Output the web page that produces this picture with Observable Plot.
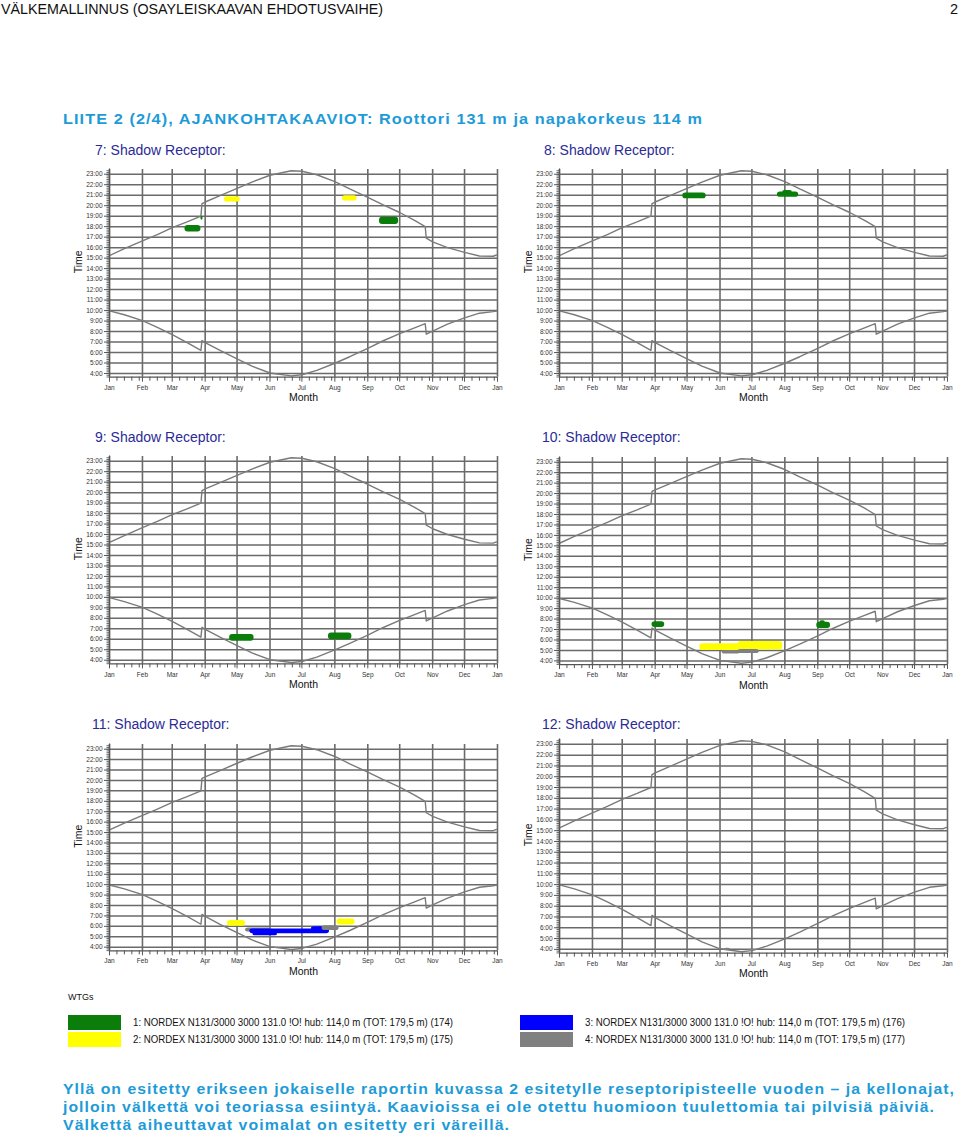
<!DOCTYPE html>
<html><head><meta charset="utf-8">
<script src="https://cdn.jsdelivr.net/npm/d3@7"></script>
<script src="https://cdn.jsdelivr.net/npm/@observablehq/plot@0.6"></script>
<style>
body{margin:0;background:#fff;}
#page{position:relative;width:960px;height:1139px;overflow:hidden;font-family:"Liberation Sans",Arial,sans-serif;}
.abs{position:absolute;white-space:nowrap;transform-origin:0 0;}
.hdr{font-family:"Liberation Sans",Arial,sans-serif;font-size:14.5px;line-height:16px;color:#111;}
.blue{font-family:"Liberation Sans",Arial,sans-serif;font-weight:bold;color:#1e9bd7;letter-spacing:1px;font-size:15px;line-height:18px;}
.ptitle{font-size:14px;line-height:18px;color:#2b2b96;}
.leg{font-size:10px;line-height:12px;color:#111;}
</style></head><body><div id="page"></div>
<script>
const YEAR = 2010;
const monthLabels = ["Jan","Feb","Mar","Apr","May","Jun","Jul","Aug","Sep","Oct","Nov","Dec"];
const hourTicks = [4,5,6,7,8,9,10,11,12,13,14,15,16,17,18,19,20,21,22,23];
const receptorNames = ["7: Shadow Receptor:","8: Shadow Receptor:","9: Shadow Receptor:","10: Shadow Receptor:","11: Shadow Receptor:","12: Shadow Receptor:"];

// sunrise / sunset curve (month-day, decimal hour)
const sunDates = ["01-01","01-15","02-01","02-15","03-01","03-15","03-28","03-29","04-01","04-15","05-01","05-15","06-01","06-21","07-01","07-15","08-01","08-15","09-01","09-15","10-01","10-15","10-25","10-26","11-01","11-15","12-01","12-15","12-28","12-31"];
const sunsetHours = [15.25,15.9,16.65,17.25,17.9,18.45,19.0,20.2,20.35,20.95,21.65,22.25,22.9,23.33,23.28,22.95,22.3,21.6,20.8,20.1,19.35,18.6,18.0,16.9,16.55,16.0,15.55,15.2,15.18,15.3];
const sunriseHours = [9.97,9.6,9.05,8.4,7.7,6.95,6.2,7.15,6.95,6.2,5.4,4.7,4.05,3.78,3.88,4.3,4.98,5.6,6.4,7.1,7.8,8.35,8.75,7.75,8.05,8.7,9.3,9.75,9.9,9.95];

// WTGs
const wtgIds = [1,2,3,4];
const wtgColors = ["#0a7d0a","#ffff00","#0000ff","#808080"];
const wtgLabels = [
  "1: NORDEX N131/3000 3000 131.0 !O! hub: 114,0 m (TOT: 179,5 m) (174)",
  "2: NORDEX N131/3000 3000 131.0 !O! hub: 114,0 m (TOT: 179,5 m) (175)",
  "3: NORDEX N131/3000 3000 131.0 !O! hub: 114,0 m (TOT: 179,5 m) (176)",
  "4: NORDEX N131/3000 3000 131.0 !O! hub: 114,0 m (TOT: 179,5 m) (177)"
];

// shadow periods per receptor: [wtg, from, to, startHour, endHour]
const patches7 = [[1,"03-13","03-28",17.5,18.1],[1,"03-28","03-30",18.6,19.0],[2,"04-19","05-04",20.35,20.85],[2,"08-08","08-22",20.45,20.95],[1,"09-12","09-30",18.2,18.9]];
const patches8 = [[1,"04-27","05-19",20.65,21.2],[1,"07-25","08-14",20.8,21.3],[1,"07-30","08-08",21.2,21.45]];
const patches9 = [[1,"04-24","05-17",5.8,6.45],[1,"07-26","08-17",5.95,6.6]];
const patches10 = [[1,"03-29","04-10",7.2,7.75],[1,"08-31","09-13",7.1,7.7],[1,"09-03","09-08",7.6,7.85],[2,"05-13","06-20",5.0,5.65],[2,"06-18","07-30",5.05,5.85],[4,"06-03","06-20",4.65,5.0],[4,"06-18","07-08",4.7,5.1]];
const patches11 = [[2,"04-22","05-09",6.0,6.55],[2,"08-03","08-20",6.12,6.7],[4,"05-09","06-03",5.45,5.85],[3,"05-13","07-27",5.3,5.75],[3,"05-16","06-08",5.1,5.4],[3,"07-10","07-22",5.6,5.95],[4,"07-20","08-05",5.6,6.05]];
const patches12 = [[4,"06-05","06-11",3.95,4.1],[4,"06-27","07-04",3.85,4.0]];
const allPatches = [patches7,patches8,patches9,patches10,patches11,patches12];

// layout (page coordinates)
const layout = [
 {x0:109, y23:173.7, y4:373, tx:95, ty:141},
 {x0:559, y23:173.7, y4:373, tx:544, ty:141},
 {x0:109, y23:461, y4:660, tx:95, ty:428},
 {x0:559, y23:461.3, y4:660, tx:542, ty:428},
 {x0:109, y23:749, y4:947, tx:92, ty:715},
 {x0:559, y23:744, y4:949, tx:542, ty:715}
];

const page = document.getElementById("page");
function addDiv(cls, text, left, top, extra) {
  const d = document.createElement("div");
  d.className = "abs " + cls;
  d.textContent = text;
  d.style.left = left + "px"; d.style.top = top + "px";
  if (extra) Object.assign(d.style, extra);
  page.appendChild(d);
  return d;
}
function fit(div, target) {
  const w = div.getBoundingClientRect().width;
  if (w > 0) div.style.transform = `scaleX(${target / w})`;
  return div;
}
const md = s => { const [m, d] = s.split("-").map(Number); return new Date(Date.UTC(YEAR, m - 1, d)); };

fit(addDiv("hdr", "VÄLKEMALLINNUS (OSAYLEISKAAVAN EHDOTUSVAIHE)", 1, 1), 382);
addDiv("hdr", "2", 950, 1);
fit(addDiv("blue", "LIITE 2 (2/4), AJANKOHTAKAAVIOT: Roottori 131 m ja napakorkeus 114 m", 63, 110), 640);

const sunsetRows = sunDates.map((d, i) => ({date: md(d), t: sunsetHours[i]}));
const sunriseRows = sunDates.map((d, i) => ({date: md(d), t: sunriseHours[i]}));

function panel(idx) {
  const L = layout[idx];
  const k = (L.y4 - L.y23) / 19;
  const yTop = 23.45, yBot = 3.65;
  const mt = 30, mb = 36, ml = 49, mr = 13, W = 450;
  const H = mt + (yTop - yBot) * k + mb;
  const top = L.y23 - (yTop - 23) * k - mt;
  const left = L.x0 - ml;
  const xa = new Date(Date.UTC(YEAR, 0, 1)), xb = new Date(Date.UTC(YEAR + 1, 0, 1));
  const months = d3.utcMonth.range(xa, d3.utcDay.offset(xb, 1));
  const weeks = d3.utcDay.every(7).range(xa, xb).filter(d => d.getUTCDate() !== 1);
  const minorHours = d3.range(Math.ceil(yBot * 6), Math.floor(23.4 * 6) + 1).map(v => v / 6);
  const rows = allPatches[idx].map(([w, a, b, t0, t1]) => ({wtg: w, x1: md(a), x2: md(b), y1: t0, y2: t1}));
  const svg = Plot.plot({
    width: W, height: H, marginTop: mt, marginBottom: mb, marginLeft: ml, marginRight: mr,
    style: {fontFamily: '"Liberation Sans", Arial, sans-serif', color: "#333", background: "transparent", overflow: "visible"},
    x: {type: "utc", domain: [xa, xb]},
    y: {domain: [yBot, yTop]},
    color: {domain: wtgIds, range: wtgColors},
    marks: [
      Plot.gridX(months, {stroke: "#6a6a6a", strokeOpacity: 1, strokeWidth: 1.6}),
      Plot.gridY(hourTicks, {stroke: "#6a6a6a", strokeOpacity: 1, strokeWidth: 1.5}),
      Plot.line(sunsetRows, {x: "date", y: "t", stroke: "#7a7a7a", strokeWidth: 1.4}),
      Plot.line(sunriseRows, {x: "date", y: "t", stroke: "#7a7a7a", strokeWidth: 1.4}),
      Plot.rect(rows, {x1: "x1", x2: "x2", y1: "y1", y2: "y2", fill: "wtg", rx: 3}),
      Plot.ruleX([xa], {stroke: "#555", strokeWidth: 1.2, y1: yBot, y2: 23.5}),
      Plot.ruleY([yBot], {stroke: "#555", strokeWidth: 1.2}),
      Plot.axisY(minorHours, {tickSize: 2.5, tickFormat: () => "", label: null, stroke: "#666"}),
      Plot.axisY(hourTicks, {tickSize: 5, tickPadding: 2, tickFormat: h => `${h}:00`, fontSize: 6.5, label: null, stroke: "#555"}),
      Plot.axisX(weeks, {tickSize: 4, tickFormat: () => "", label: null, stroke: "#555"}),
      Plot.axisX(months, {tickSize: 5, tickPadding: 3, tickFormat: d => monthLabels[d.getUTCMonth()], fontSize: 6.5, label: null, stroke: "#555"}),
      Plot.text(["Time"], {frameAnchor: "left", dx: -31, rotate: -90, fontSize: 10.5, fill: "#111"}),
      Plot.text(["Month"], {frameAnchor: "bottom", dy: 24, fontSize: 10.5, fill: "#111"})
    ]
  });
  const wrap = document.createElement("div");
  wrap.className = "abs";
  wrap.style.left = left + "px"; wrap.style.top = top + "px";
  wrap.appendChild(svg);
  page.appendChild(wrap);
  addDiv("ptitle", receptorNames[idx], L.tx, L.ty);
}
for (let i = 0; i < 6; i++) panel(i);

// legend
addDiv("leg", "WTGs", 68, 991, {fontSize: "9px"});
const legPos = [[68,1015],[68,1032],[520,1015],[520,1032]];
wtgIds.forEach((id, i) => {
  const [lx, ly] = legPos[i];
  addDiv("", "", lx, ly, {width: "53px", height: "15px", background: wtgColors[i]});
  fit(addDiv("leg", wtgLabels[i], lx + 65, ly + 1.5), 320);
});

fit(addDiv("blue", "Yllä on esitetty erikseen jokaiselle raportin kuvassa 2 esitetylle reseptoripisteelle vuoden – ja kellonajat,", 63, 1080), 892);
fit(addDiv("blue", "jolloin välkettä voi teoriassa esiintyä. Kaavioissa ei ole otettu huomioon tuulettomia tai pilvisiä päiviä.", 63, 1098), 872);
fit(addDiv("blue", "Välkettä aiheuttavat voimalat on esitetty eri väreillä.", 63, 1116), 447);
</script></body></html>
